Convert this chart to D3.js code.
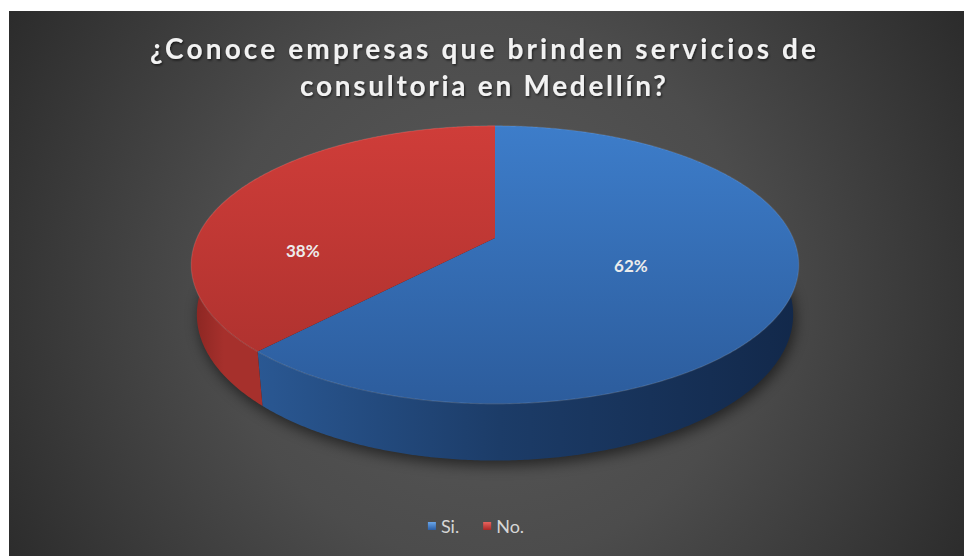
<!DOCTYPE html>
<html>
<head>
<meta charset="utf-8">
<script src="https://cdn.jsdelivr.net/npm/d3@7"></script>
<style>
  html, body { margin: 0; padding: 0; background: #ffffff; }
  svg { display: block; }
</style>
</head>
<body>
<svg id="chart" width="964" height="556"></svg>
<script>
// Survey answers
const categories = ["Si.", "No."];
const values = [62, 38];
const labels = ["62%", "38%"];
const titleLines = ["¿Conoce empresas que brinden servicios de", "consultoria en Medellín?"];

const W = 964, H = 556;
const svg = d3.select("#chart");
const defs = svg.append("defs");

// Chart area background: dark radial vignette
const bg = defs.append("radialGradient").attr("id", "bg")
  .attr("gradientUnits", "userSpaceOnUse")
  .attr("cx", 486).attr("cy", 290).attr("r", 600);
bg.append("stop").attr("offset", 0).attr("stop-color", "#5a5a5a");
bg.append("stop").attr("offset", 0.45).attr("stop-color", "#4c4c4c");
bg.append("stop").attr("offset", 1).attr("stop-color", "#262626");

const area = { x: 9, y: 11, w: W - 9, h: H - 11 };
svg.append("rect").attr("x", area.x).attr("y", area.y)
  .attr("width", area.w).attr("height", area.h).attr("fill", "url(#bg)");

// ---- 3D perspective pie ----
const cx = 495, cy0 = 238;       // projected centre of the top face
const F = 1380, D = 4.63;        // focal length and camera distance (disk radius = 1)
const tilt = Math.asin(0.449);
const S = Math.sin(tilt), C = Math.cos(tilt);
const depth = 0.187;             // thickness of the disk

function project(a, r, h) {
  const x = r * Math.sin(a), z = -r * Math.cos(a);
  const u = h * C - z * S;
  const d = D - (z * C + h * S);
  return [cx + F * x / d, cy0 - F * u / d];
}

const pie = d3.pie().sort(null).value(d => d);
const arcs = pie(values);

const line = d3.line().curve(d3.curveLinear);
function rim(a0, a1, h) {
  const n = Math.max(8, Math.ceil((a1 - a0) / (Math.PI / 360)));
  return d3.range(n + 1).map(i => project(a0 + (a1 - a0) * i / n, 1, h));
}

const topColors = [["#3d7dca", "#2c5c9c"], ["#cf3d39", "#a9302d"]];
const sideColors = [["#2a5893", "#1c3c68", "#12284a"], ["#8a2622", "#a6302c", "#a6302c"]];

topColors.forEach((c, i) => {
  const g = defs.append("linearGradient").attr("id", "top" + i)
    .attr("gradientUnits", "userSpaceOnUse")
    .attr("x1", 0).attr("y1", 125).attr("x2", 0).attr("y2", 405);
  g.append("stop").attr("offset", 0).attr("stop-color", c[0]);
  g.append("stop").attr("offset", 1).attr("stop-color", c[1]);
});
sideColors.forEach((c, i) => {
  const g = defs.append("linearGradient").attr("id", "side" + i)
    .attr("gradientUnits", "userSpaceOnUse")
    .attr("x1", i === 0 ? 255 : 193).attr("y1", 0)
    .attr("x2", i === 0 ? 800 : 262).attr("y2", 0);
  g.append("stop").attr("offset", 0).attr("stop-color", c[0]);
  g.append("stop").attr("offset", 0.45).attr("stop-color", c[1]);
  g.append("stop").attr("offset", 1).attr("stop-color", c[2]);
});

// soft shadow under the disk
const blur = defs.append("filter").attr("id", "blur")
  .attr("x", "-20%").attr("y", "-20%").attr("width", "140%").attr("height", "140%");
blur.append("feGaussianBlur").attr("stdDeviation", 7);
const outline = rim(0, 2 * Math.PI, -depth);
svg.append("path").attr("d", line(outline) + "Z")
  .attr("transform", "translate(2,5)")
  .attr("fill", "#000").attr("opacity", 0.55).attr("filter", "url(#blur)");

const pieG = svg.append("g");

// side walls
arcs.forEach((s, i) => {
  const pts = rim(s.startAngle, s.endAngle, 0)
    .concat(rim(s.startAngle, s.endAngle, -depth).reverse());
  pieG.append("path").attr("d", line(pts) + "Z")
    .attr("fill", `url(#side${i})`);
});

// top faces
arcs.forEach((s, i) => {
  const pts = [project(0, 0, 0)].concat(rim(s.startAngle, s.endAngle, 0));
  pieG.append("path").attr("d", line(pts) + "Z")
    .attr("fill", `url(#top${i})`);
  // faint highlight along the outer edge
  pieG.append("path").attr("d", line(rim(s.startAngle, s.endAngle, 0)))
    .attr("fill", "none").attr("stroke", "#ffffff").attr("stroke-opacity", 0.12)
    .attr("stroke-width", 1.2);
});

// percentage labels
const labelPlace = [{ da: 0.04, r: 0.48 }, { da: -0.52, r: 0.64 }];
arcs.forEach((s, i) => {
  const mid = (s.startAngle + s.endAngle) / 2 + labelPlace[i].da;
  const p = project(mid, labelPlace[i].r, 0);
  svg.append("text").attr("x", p[0]).attr("y", p[1])
    .attr("text-anchor", "middle").attr("dominant-baseline", "central")
    .attr("font-family", "Lato, 'Open Sans', sans-serif")
    .attr("font-weight", 700).attr("font-size", 17)
    .attr("fill", "#ececec")
    .text(labels[i]);
});

// ---- title ----
const shadow = defs.append("filter").attr("id", "tshadow");
shadow.append("feDropShadow").attr("dx", 1).attr("dy", 1.5)
  .attr("stdDeviation", 1.2).attr("flood-color", "#000").attr("flood-opacity", 0.6);
const titleWidths = [666, 366];
const titleY = [59, 96];
titleLines.forEach((t, i) => {
  svg.append("text")
    .attr("x", 483).attr("y", titleY[i])
    .attr("text-anchor", "middle")
    .attr("font-family", "Lato, 'Open Sans', sans-serif")
    .attr("font-weight", 700).attr("font-size", 28)
    .attr("textLength", titleWidths[i]).attr("lengthAdjust", "spacing")
    .attr("fill", "#f2f2f2").attr("filter", "url(#tshadow)")
    .text(t);
});

// ---- legend ----
const legColors = [["#6aa6ea", "#2a5ea6"], ["#e8635e", "#a82826"]];
legColors.forEach((c, i) => {
  const g = defs.append("linearGradient").attr("id", "leg" + i)
    .attr("x1", 0).attr("y1", 0).attr("x2", 0).attr("y2", 1);
  g.append("stop").attr("offset", 0).attr("stop-color", c[0]);
  g.append("stop").attr("offset", 1).attr("stop-color", c[1]);
});
const legend = svg.append("g");
const legY = 526, box = 8, gap = 5, itemGap = 24;
let lx = 0;
const items = categories.map((name, i) => {
  const g = legend.append("g");
  g.append("rect").attr("x", 0).attr("y", legY - box / 2)
    .attr("width", box).attr("height", box).attr("fill", `url(#leg${i})`);
  const t = g.append("text").attr("x", box + gap).attr("y", legY)
    .attr("dominant-baseline", "central")
    .attr("font-family", "Lato, 'Open Sans', sans-serif")
    .attr("font-size", 18).attr("fill", "#d6d6d6").text(name);
  const w = box + gap + t.node().getComputedTextLength();
  g.attr("transform", `translate(${lx},0)`);
  lx += w + itemGap;
  return g;
});
const total = lx - itemGap;
legend.attr("transform", `translate(${476 - total / 2},0)`);
</script>
</body>
</html>
